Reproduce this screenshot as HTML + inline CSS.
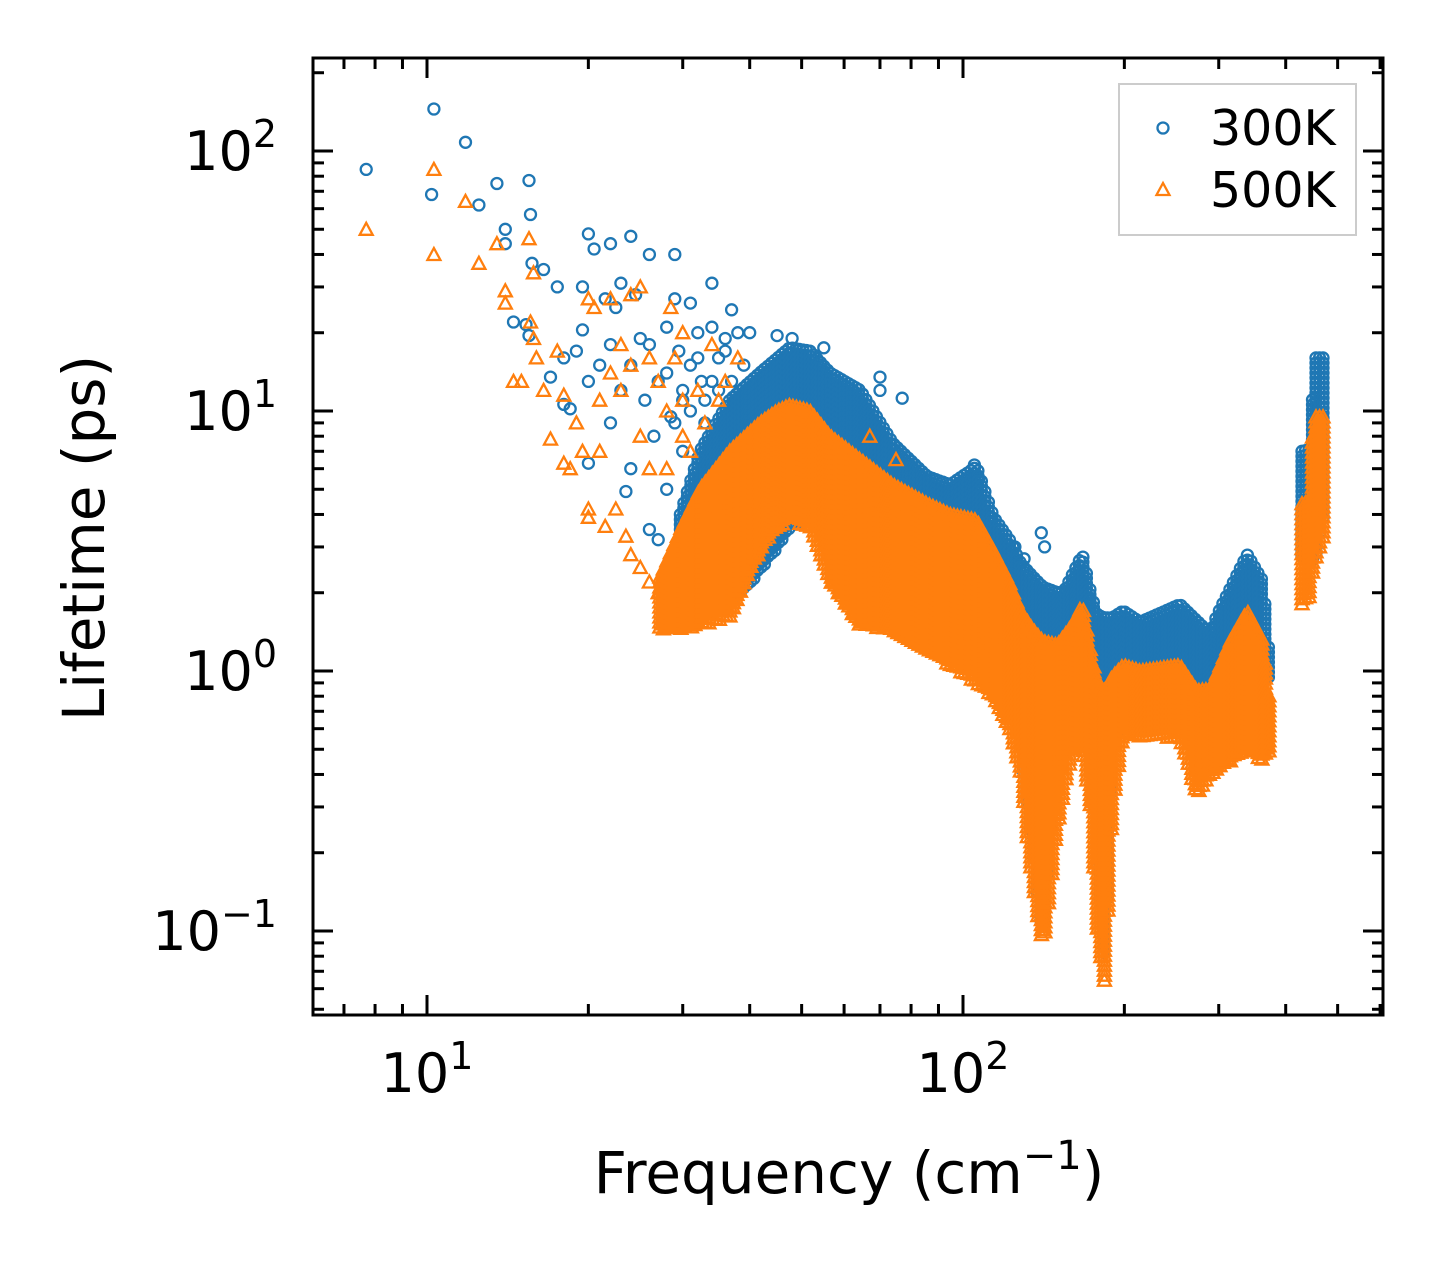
<!DOCTYPE html>
<html><head><meta charset="utf-8"><style>
html,body{margin:0;padding:0;background:#fff;}
svg text{font-family:"DejaVu Sans","Liberation Sans",sans-serif;fill:#000;}
</style></head><body>
<svg id="chart" width="1442" height="1265" viewBox="0 0 1442 1265" xmlns="http://www.w3.org/2000/svg">
<rect x="0" y="0" width="1442" height="1265" fill="#fff"/>
<g id="marks"></g>
<g id="axes"></g>
<g id="legend">
<rect x="1119" y="84" width="237" height="151" fill="#fff" stroke="#cccccc" stroke-width="2"/>
<circle cx="1163" cy="128" r="5.5" fill="none" stroke="#1f77b4" stroke-width="2.3"/>
<text x="1210" y="145" font-size="49">300K</text>
<path d="M1163,183 L1169.5,195 L1156.5,195 Z" fill="none" stroke="#ff7f0e" stroke-width="2.3"/>
<text x="1210" y="207" font-size="49">500K</text>
</g>
<text x="849" y="1193" font-size="58" text-anchor="middle">Frequency (cm<tspan dy="-24" font-size="40">−1</tspan><tspan dy="24">)</tspan></text>
<text transform="translate(104,538) rotate(-90)" font-size="58" text-anchor="middle">Lifetime (ps)</text>
</svg>
<script>
// ---- data ----
const blueOutFreq = [7.7,10.3,10.2,11.8,12.5,13.5,14,14,14.5,15.5,15.6,15.7,15.3,15.5,16.5,17,17.5,18,18,18.5,19,19.5,19.5,20,20,20,20.5,21,21.5,22,22,22,22.5,23,23,23.5,24,24,24.5,25,25.5,26,26,26.5,27,28,28.5,29,29,29.5,30,31,31,32,32.5,33,34,34,35,36,37,37,38,39,40,45,48,55,70,70,77,105,107,125,130,140,142,24,26,27,28,30,33,28,30,32,34,36,29,31,33,35];
const blueOutLife = [85,145,68,108,62,75,50,44,22,77,57,37,21.5,19.5,35,13.5,30,16,10.6,10.2,17,30,20.5,48,13,6.3,42,15,27,44,18,9,25,31,12,4.9,47,15,28,19,11,40,18,8,13,21,9.5,40,27,17,11,26,15,20,13,9,31,21,16,19,24.5,13,20,15,20,19.5,19,17.5,13.5,12,11.2,6.2,5.5,3.0,2.7,3.4,3.0,6,3.5,3.2,5,7,6,14,12,16,13,17,9,10,11,12];
const orangeOutFreq = [7.7,10.3,10.3,11.8,12.5,13.5,14,14,14.5,15,15.5,15.8,15.6,15.8,16,16.5,17,17.5,18,18,18.5,19,19.5,20,20,20,20.5,21,21,21.5,22,22,22.5,23,23,23.5,24,24,25,25,26,26,27,28,28.5,29,30,30,32,34,36,38,24,25,26,27,67,75,100,110,28,30,31,33,35];
const orangeOutLife = [50,85,40,64,37,44,29,26,13,13,46,34,22,19,16,12,7.8,17,11.5,6.3,6,9,7,27,4.2,3.9,25,11,7,3.6,27,14,4.2,18,12,3.3,28,15,30,8,16,6,13,10,25,16,20,11,12,18,13,16,2.8,2.5,2.2,2.0,8,6.5,3.0,2.3,6,8,7,9,11];
const blueBandFreq = [29.7,32.3,36.7,41.8,47.5,51.8,56.5,64.3,74,85.7,94.6,106,114,122,128,135,141,150,154,167,173,178,184,190,199,214,254,289,298,339,363,374];
const blueBandLo   = [1.6,1.6,1.8,2.4,3.5,4,4,3.5,2.6,2.2,1.9,1.6,1.4,1.2,0.5,0.2,0.09,0.5,1.0,0.9,0.6,0.2,0.07,0.5,0.6,0.6,0.6,0.57,0.6,0.8,0.9,0.96];
const blueBandHi   = [4,7,11,14,17.5,17,14,12,7.5,5.6,5.2,6.1,3.9,3.2,2.6,2.3,2.1,2.0,2.0,2.8,2.0,1.64,1.6,1.6,1.7,1.54,1.8,1.39,1.64,2.8,2.2,1.03];
const blueHighFreq = [429,445,452,470];
const blueHighLo   = [2.7,2.7,2.6,3.8];
const blueHighHi   = [7,7.1,16,16];
const orangeBandFreq = [27.2,29.7,32.3,36.7,41.8,45,47.5,51.8,56.5,64.3,74,85.7,94.6,106,114,122,128,135,141,150,160,167,173,178,184,190,199,214,254,273,289,315,339,363,374];
const orangeBandLo   = [1.45,1.45,1.5,1.6,2.9,3.6,3.8,3.6,2.2,1.5,1.44,1.2,1.05,0.89,0.8,0.6,0.4,0.15,0.085,0.25,0.5,0.5,0.3,0.1,0.061,0.3,0.57,0.56,0.55,0.33,0.4,0.45,0.5,0.45,0.5];
const orangeBandHi   = [2.3,3.5,5,7,9,10,10.5,10,8,6.5,5.2,4.4,4.0,3.8,2.9,2.2,1.7,1.44,1.3,1.26,1.5,1.8,1.2,0.9,0.84,0.95,1.05,1.0,1.05,0.84,0.85,1.3,1.7,1.3,0.73];
const orangeHighFreq = [429,445,450,470];
const orangeHighLo   = [1.8,1.9,2.5,3.2];
const orangeHighHi   = [4.4,4.5,9.5,9.5];
const xMajorTicks = [10,100];
const xTickLabels = ["1","2"];
const yMajorTicks = [0.1,1,10,100];
const yTickLabels = ["−1","0","1","2"];

// ---- axes ----
const X0=313,X1=1383,Y0=58,Y1=1015;
const xs = f => 427 + (Math.log10(f)-1)*536;
const ys = v => 671 - Math.log10(v)*260;
const NS="http://www.w3.org/2000/svg";
function mk(tag, attrs, parent){const e=document.createElementNS(NS,tag);for(const k in attrs)e.setAttribute(k,attrs[k]);parent.appendChild(e);return e;}
const marks=document.getElementById('marks');
const axes=document.getElementById('axes');

function circle(f,v,parent){
  const c=mk('circle',{cx:xs(f).toFixed(1),cy:ys(v).toFixed(1),r:5.5,fill:'none',stroke:'#1f77b4','stroke-width':2.3},parent);
  
  
}
function tri(f,v,parent){
  const x=xs(f),y=ys(v);
  const p=mk('path',{d:`M${x.toFixed(1)},${(y-6.5).toFixed(1)}L${(x+6.5).toFixed(1)},${(y+5.5).toFixed(1)}L${(x-6.5).toFixed(1)},${(y+5.5).toFixed(1)}Z`,fill:'none',stroke:'#ff7f0e','stroke-width':2.3},parent);
  
  
}
function interp(fr, arr, f){
  const lf=Math.log10(f);
  for(let i=0;i<fr.length-1;i++){
    const a=Math.log10(fr[i]),b=Math.log10(fr[i+1]);
    if(lf>=a&&lf<=b){const t=(lf-a)/(b-a);return Math.pow(10,Math.log10(arr[i])*(1-t)+Math.log10(arr[i+1])*t);}
  }
  return arr[arr.length-1];
}
function band(fr,lo,hi,fn,parent){
  const xa=xs(fr[0]),xb=xs(fr[fr.length-1]);
  for(let x=xa;x<=xb+0.01;x+=3.5){
    const f=Math.pow(10,1+(x-427)/536);
    const yl=ys(interp(fr,lo,f)),yh=ys(interp(fr,hi,f));
    for(let y=yh;y<=yl;y+=5){fn(f,Math.pow(10,(671-y)/260),parent);}
  }
}
const gBlue=mk('g',{},marks);


const gOr=mk('g',{},marks);


blueOutFreq.forEach((f,i)=>circle(f,blueOutLife[i],gBlue));
band(blueBandFreq,blueBandLo,blueBandHi,circle,gBlue);
band(blueHighFreq,blueHighLo,blueHighHi,circle,gBlue);
orangeOutFreq.forEach((f,i)=>tri(f,orangeOutLife[i],gOr));
band(orangeBandFreq,orangeBandLo,orangeBandHi,tri,gOr);
band(orangeHighFreq,orangeHighLo,orangeHighHi,tri,gOr);

// frame
const fr=mk('rect',{x:X0,y:Y0,width:X1-X0,height:Y1-Y0,fill:'none',stroke:'#000','stroke-width':3},axes);


// x ticks
for(let d=1;d<=100;d*=10){for(let m=1;m<=9;m++){const f=d*m;const x=xs(f);if(x<X0||x>X1)continue;
  const L=(m===1)?20:11;
  const t1=mk('line',{x1:x,x2:x,y1:Y1,y2:Y1-L,stroke:'#000','stroke-width':3},axes);
  
  
  const t2=mk('line',{x1:x,x2:x,y1:Y0,y2:Y0+L,stroke:'#000','stroke-width':3},axes);
  
  
}}
// y ticks
for(let d=0.01;d<=1000;d*=10){for(let m=1;m<=9;m++){const v=d*m;const y=ys(v);if(y<Y0||y>Y1)continue;
  const L=(m===1)?20:11;
  const t1=mk('line',{x1:X0,x2:X0+L,y1:y,y2:y,stroke:'#000','stroke-width':3},axes);
  
  
  const t2=mk('line',{x1:X1,x2:X1-L,y1:y,y2:y,stroke:'#000','stroke-width':3},axes);
  
  
}}
// tick labels
xMajorTicks.forEach((f,i)=>{
  const t=mk('text',{x:xs(f),y:1092,'font-size':54,'text-anchor':'middle'},axes);
  t.innerHTML=`10<tspan dy="-23" font-size="38">${xTickLabels[i]}</tspan>`;
  
  
});
yMajorTicks.forEach((v,i)=>{
  const t=mk('text',{x:277,y:ys(v)+19,'font-size':54,'text-anchor':'end'},axes);
  t.innerHTML=`10<tspan dy="-23" font-size="38">${yTickLabels[i]}</tspan>`;
  
  
});
</script>
</body></html>
